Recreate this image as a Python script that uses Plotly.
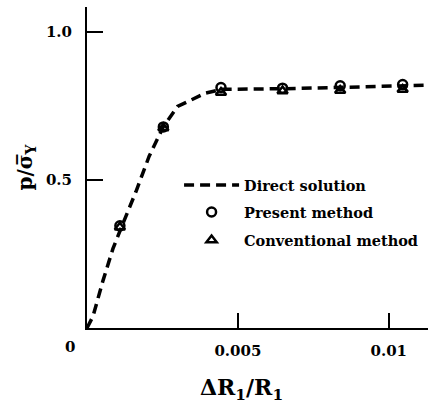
import plotly.graph_objects as go

# Direct solution curve
direct_x = [0.0, 0.0002, 0.00053, 0.00086, 0.00118, 0.00162, 0.00206, 0.00253, 0.00300, 0.00349, 0.00392, 0.00447, 0.00540, 0.00650, 0.0082, 0.0102, 0.0117]
direct_y = [0.0, 0.040, 0.160, 0.268, 0.350, 0.460, 0.580, 0.680, 0.748, 0.772, 0.793, 0.806, 0.806, 0.808, 0.812, 0.816, 0.821]

# Present method (circles)
present_x = [0.00109, 0.00253, 0.00444, 0.00648, 0.00839, 0.01046]
present_y = [0.345, 0.679, 0.812, 0.810, 0.818, 0.822]

# Conventional method (triangles)
conv_x = [0.00109, 0.00253, 0.00444, 0.00648, 0.00839, 0.01046]
conv_y = [0.340, 0.675, 0.795, 0.800, 0.802, 0.805]

xtick_vals = [0.005, 0.01]
xtick_text = ["0.005", "0.01"]
ytick_vals = [0.5, 1.0]
ytick_text = ["0.5", "1.0"]

FONT = "DejaVu Serif"
LEG_FONT = dict(family=FONT, size=14.5, weight="bold")

fig = go.Figure()
fig.add_trace(go.Scatter(x=direct_x, y=direct_y, mode="lines", name="Direct solution",
                         line=dict(color="black", width=3.5, dash="10px,6px"), legend="legend"))
fig.add_trace(go.Scatter(x=present_x, y=present_y, mode="markers", name="Present method",
                         marker=dict(symbol="circle-open", size=9, color="black", line=dict(width=2.5)),
                         legend="legend2"))
fig.add_trace(go.Scatter(x=conv_x, y=conv_y, mode="markers", name="Conventional method",
                         marker=dict(symbol="triangle-up-open", size=9, color="black", line=dict(width=2.5)),
                         legend="legend3"))

leg_common = dict(x=0.27, xanchor="left", yanchor="middle", bgcolor="rgba(0,0,0,0)",
                  font=LEG_FONT, itemwidth=55)

fig.update_layout(
    width=443, height=404,
    margin=dict(l=87, r=15, t=7, b=76),
    paper_bgcolor="white", plot_bgcolor="white",
    font=dict(family=FONT, color="black", size=15, weight="bold"),
    showlegend=True,
    legend=dict(y=0.4455, **leg_common),
    legend2=dict(y=0.361, **leg_common),
    legend3=dict(y=0.274, **leg_common),
    xaxis=dict(range=[0, 0.0113], showgrid=False, zeroline=False,
               showline=True, linecolor="black", linewidth=2,
               ticks="inside", ticklen=15, tickwidth=2, tickcolor="black",
               tickvals=xtick_vals, ticktext=xtick_text, ticklabelstandoff=8,
               tickfont=dict(family=FONT, size=15, weight="bold")),
    yaxis=dict(range=[0, 1.084], showgrid=False, zeroline=False,
               showline=True, linecolor="black", linewidth=2,
               ticks="inside", ticklen=16, tickwidth=2, tickcolor="black",
               tickvals=ytick_vals, ticktext=ytick_text, ticklabelstandoff=10,
               tickfont=dict(family=FONT, size=15, weight="bold"),
               title=dict(text="p/σ\u0305<sub>Y</sub>", standoff=8,
                          font=dict(family=FONT, size=20, weight="bold"))),
)

fig.add_annotation(text="0", x=0, y=0, xref="x", yref="y", xanchor="center", yanchor="top",
                   xshift=-17, yshift=-8, showarrow=False,
                   font=dict(family=FONT, size=15, weight="bold"))
fig.add_annotation(text="ΔR<sub>1</sub>/R<sub>1</sub>", x=0.00513, y=0, xref="x", yref="y",
                   xanchor="center", yanchor="middle", yshift=-61, showarrow=False,
                   font=dict(family=FONT, size=22, weight="bold"))

fig.write_html("out.html")
